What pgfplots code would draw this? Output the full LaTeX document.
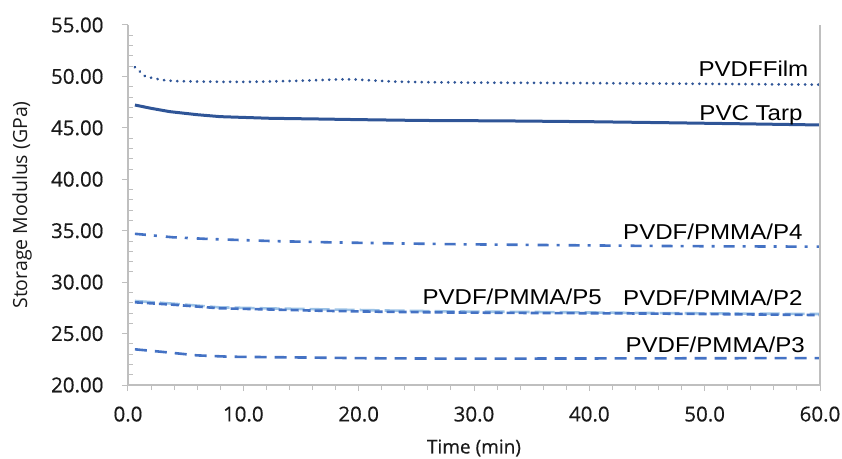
\documentclass[border=0pt]{standalone}
\usepackage{pgfplots}
\pgfplotsset{compat=1.18}
\usepackage{fontspec}
\setmainfont{Open Sans}
\newfontfamily\tk{Open Sans}[FakeBold=0.5]
\newfontfamily\lab[FakeStretch=1.12]{Liberation Sans}
\definecolor{axgray}{HTML}{BFBFBF}
\definecolor{dblue}{HTML}{2F5597}
\definecolor{mblue}{HTML}{4472C4}
\definecolor{lblue}{HTML}{9DC3E6}
\definecolor{txt}{HTML}{1A1A1A}
\begin{document}
\begin{tikzpicture}
\begin{axis}[
    at={(0,0)}, anchor=south west,
    scale only axis,
    width=692pt, height=360pt,
    xmin=0, xmax=60, ymin=20, ymax=55,
    xtick={0,10,...,60}, ytick={20,25,...,55},
    minor x tick num=4, minor y tick num=4,
    axis x line*=bottom, axis y line*=left,
    axis line style={axgray, line width=1.2pt, -},
    tick style={axgray, line width=1pt},
    tick align=outside,
    major tick length=6pt, minor tick length=5pt,
    every minor y tick/.append style={xshift=5pt},
    ticklabel style={font=\tk\fontsize{20.5}{23}\selectfont, text=txt},
    xticklabel style={yshift=-12pt},
    yticklabel style={xshift=-15pt},
    /pgf/number format/assume math mode=true,
    y tick label style={/pgf/number format/.cd, fixed, fixed zerofill, precision=2},
    x tick label style={/pgf/number format/.cd, fixed, fixed zerofill, precision=1},
    xlabel={Time (min)}, ylabel={Storage Modulus (GPa)},
    xlabel style={font=\tk\fontsize{19}{22}\selectfont, text=txt, at={(rel axis cs:0.5,0)}, anchor=center, yshift=-63pt},
    ylabel style={font=\fontsize{19.5}{22}\selectfont, text=txt, at={(rel axis cs:0,0.5)}, anchor=center, yshift=106pt},
    clip=false,
]
% PVDFFilm
\addplot[dblue, line width=3pt, line cap=round, dash pattern=on 0.01pt off 6.6pt] coordinates {
 (0.6,50.9) (1.1,50.4) (1.5,50.0) (2.1,49.85) (3,49.65) (4,49.55) (6,49.5) (8,49.48)
 (10,49.47) (12,49.5) (14,49.55) (16,49.62) (18,49.7) (19.5,49.72) (21,49.62)
 (23,49.5) (25,49.45) (30,49.4) (40,49.35) (50,49.28) (60,49.2)
};
% PVC Tarp
\addplot[dblue, line width=3pt] coordinates {
 (0.6,47.22) (2,46.9) (3.6,46.58) (6,46.28) (8,46.09) (12.3,45.93) (16.6,45.86)
 (20,45.8) (25.3,45.72) (32.3,45.68) (40,45.6) (46.7,45.5) (53,45.4) (60,45.28)
};
% PVDF/PMMA/P4
\addplot[mblue, line width=2.6pt, dash pattern=on 11pt off 8pt on 3pt off 9pt] coordinates {
 (0.6,34.7) (3.9,34.36) (6.9,34.2) (12.3,34.0) (17.5,33.87) (23,33.77) (29,33.68)
 (37,33.6) (45.3,33.52) (52,33.48) (60,33.45)
};
% PVDF/PMMA/P5
\addplot[lblue, line width=2.6pt, dash pattern=on 20pt off 5pt] coordinates {
 (0.6,28.17) (4,27.9) (7.9,27.55) (12,27.45) (16.6,27.36) (22,27.25) (28,27.15)
 (35,27.1) (45,27.0) (60,26.9)
};
% PVDF/PMMA/P2
\addplot[mblue, line width=2.6pt, dash pattern=on 8pt off 4pt] coordinates {
 (0.6,28.04) (4,27.8) (7.9,27.46) (12,27.35) (16.6,27.22) (22,27.12) (28,27.05)
 (35,27.0) (45,26.95) (60,26.8)
};
% PVDF/PMMA/P3
\addplot[mblue, line width=2.6pt, dash pattern=on 12pt off 8pt] coordinates {
 (0.6,23.47) (2.8,23.24) (6,22.88) (8.8,22.75) (13.8,22.69) (21,22.6) (29,22.56)
 (40,22.58) (50,22.6) (60,22.62)
};
\draw[axgray, line width=1.2pt] (rel axis cs:1,0) -- (rel axis cs:1,1);
\begin{scope}[every node/.style={font=\lab\fontsize{21.5}{24}\selectfont, text=black, inner sep=0pt}]
\node[anchor=east] at (axis cs:59.0,50.72) {PVDFFilm};
\node[anchor=east] at (axis cs:58.5,46.25) {PVC Tarp};
\node[anchor=east] at (axis cs:58.5,34.9) {PVDF/PMMA/P4};
\node[anchor=east] at (axis cs:41.1,28.6) {PVDF/PMMA/P5};
\node[anchor=east] at (axis cs:58.5,28.5) {PVDF/PMMA/P2};
\node[anchor=east] at (axis cs:58.7,23.9) {PVDF/PMMA/P3};
\end{scope}
\end{axis}
\pgfresetboundingbox
\path (-128pt,-73pt) rectangle (714pt,385pt);
\end{tikzpicture}
\end{document}
